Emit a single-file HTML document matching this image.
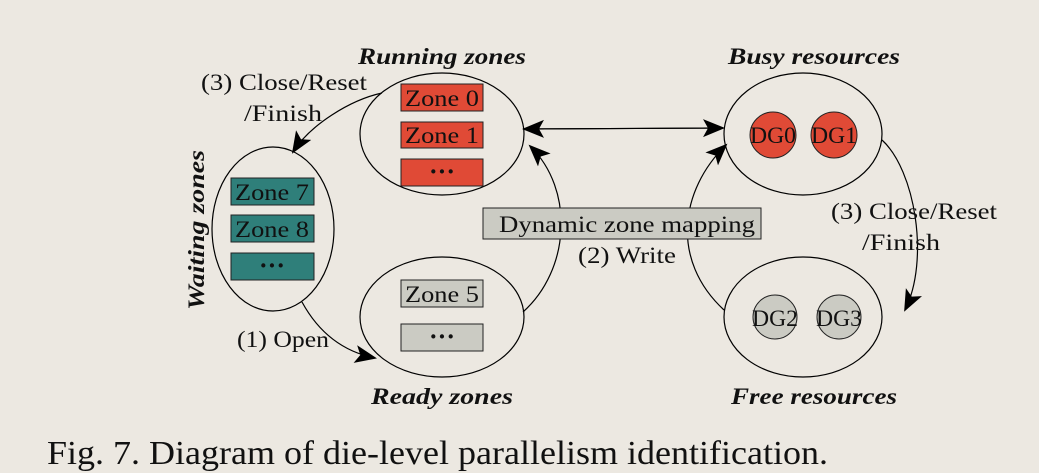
<!DOCTYPE html>
<html><head><meta charset="utf-8"><style>
html,body{margin:0;padding:0;background:#ece8e1;}
svg{display:block;}
text{font-family:"Liberation Serif",serif;fill:#111;}
.l{font-size:23px;}
.h{font-size:23px;font-weight:bold;font-style:italic;}
.d{font-size:26px;font-weight:bold;}
</style></head><body>
<svg width="1039" height="473" viewBox="0 0 1039 473">
<defs>
<marker id="b" markerWidth="22" markerHeight="22" refX="20" refY="11" orient="auto" markerUnits="userSpaceOnUse" viewBox="0 0 22 22"><path d="M0,2 L22,11 L0,20 L5,11 Z" fill="#000"/></marker>
</defs>
<g fill="none" stroke="#000" stroke-width="1.2">
<ellipse cx="442" cy="134" rx="82" ry="61"/>
<ellipse cx="273" cy="229" rx="61" ry="82"/>
<ellipse cx="442" cy="317" rx="82" ry="60"/>
<ellipse cx="803" cy="134" rx="79" ry="61"/>
<ellipse cx="803" cy="317" rx="79" ry="60"/>
<path d="M524,129 L723,128" marker-end="url(#b)"/>
<path d="M723,128 L524,129" marker-end="url(#b)"/>
<path d="M523,312 C570,270 575,190 530,146" marker-end="url(#b)"/>
<path d="M724,310 C670,260 680,190 726,145" marker-end="url(#b)"/>
<path d="M882,140 C915,170 930,260 905,310" marker-end="url(#b)"/>
<path d="M382,93 C350,100 310,125 293,152" marker-end="url(#b)"/>
<path d="M302,302 C320,335 345,352 375,358" marker-end="url(#b)"/>
</g>
<g stroke="#222" stroke-width="1">
<rect x="401" y="84" width="82" height="27" fill="#e04a36"/>
<rect x="401" y="122" width="82" height="26" fill="#e04a36"/>
<rect x="401" y="159" width="82" height="27" fill="#e04a36"/>
<rect x="231" y="178" width="83" height="27" fill="#2f7f7a"/>
<rect x="231" y="215" width="83" height="27" fill="#2f7f7a"/>
<rect x="231" y="253" width="83" height="27" fill="#2f7f7a"/>
<rect x="401" y="280" width="82" height="27" fill="#cbcbc3"/>
<rect x="401" y="324" width="82" height="27" fill="#cbcbc3"/>
<rect x="483" y="208" width="278" height="31" fill="#cbcbc3"/>
<circle cx="773" cy="135" r="23" fill="#e04a36"/>
<circle cx="834" cy="135" r="23" fill="#e04a36"/>
<circle cx="775" cy="317" r="22" fill="#cbcbc3"/>
<circle cx="839" cy="317" r="22" fill="#cbcbc3"/>
</g>
<g class="l" text-anchor="middle">
<text x="442" y="106" textLength="74" lengthAdjust="spacingAndGlyphs">Zone 0</text>
<text x="442" y="143" textLength="74" lengthAdjust="spacingAndGlyphs">Zone 1</text>
<text x="272" y="200" textLength="74" lengthAdjust="spacingAndGlyphs">Zone 7</text>
<text x="272" y="237" textLength="74" lengthAdjust="spacingAndGlyphs">Zone 8</text>
<text x="442" y="302" textLength="74" lengthAdjust="spacingAndGlyphs">Zone 5</text>
<text x="627" y="232" textLength="256" lengthAdjust="spacingAndGlyphs">Dynamic zone mapping</text>
<text x="627" y="263" textLength="98" lengthAdjust="spacingAndGlyphs">(2) Write</text>
<text x="773" y="143" textLength="46" lengthAdjust="spacingAndGlyphs">DG0</text>
<text x="834" y="143" textLength="46" lengthAdjust="spacingAndGlyphs">DG1</text>
<text x="775" y="326" textLength="46" lengthAdjust="spacingAndGlyphs">DG2</text>
<text x="839" y="326" textLength="46" lengthAdjust="spacingAndGlyphs">DG3</text>
<text x="284" y="90" textLength="166" lengthAdjust="spacingAndGlyphs">(3) Close/Reset</text>
<text x="283" y="121" textLength="78" lengthAdjust="spacingAndGlyphs">/Finish</text>
<text x="914" y="219" textLength="166" lengthAdjust="spacingAndGlyphs">(3) Close/Reset</text>
<text x="901" y="250" textLength="78" lengthAdjust="spacingAndGlyphs">/Finish</text>
<text x="283" y="347" textLength="92" lengthAdjust="spacingAndGlyphs">(1) Open</text>
</g>
<g class="d" text-anchor="middle">
<text x="442" y="180">···</text>
<text x="272" y="274">···</text>
<text x="442" y="345">···</text>
</g>
<g class="h" text-anchor="middle">
<text x="442" y="64" textLength="168" lengthAdjust="spacingAndGlyphs">Running zones</text>
<text x="814" y="64" textLength="172" lengthAdjust="spacingAndGlyphs">Busy resources</text>
<text x="442" y="404" textLength="142" lengthAdjust="spacingAndGlyphs">Ready zones</text>
<text x="814" y="404" textLength="166" lengthAdjust="spacingAndGlyphs">Free resources</text>
<text transform="translate(204,230) rotate(-90)" textLength="160" lengthAdjust="spacingAndGlyphs">Waiting zones</text>
</g>
<text x="47" y="464" font-size="34" textLength="781" lengthAdjust="spacingAndGlyphs">Fig. 7. Diagram of die-level parallelism identification.</text>
</svg>
</body></html>
